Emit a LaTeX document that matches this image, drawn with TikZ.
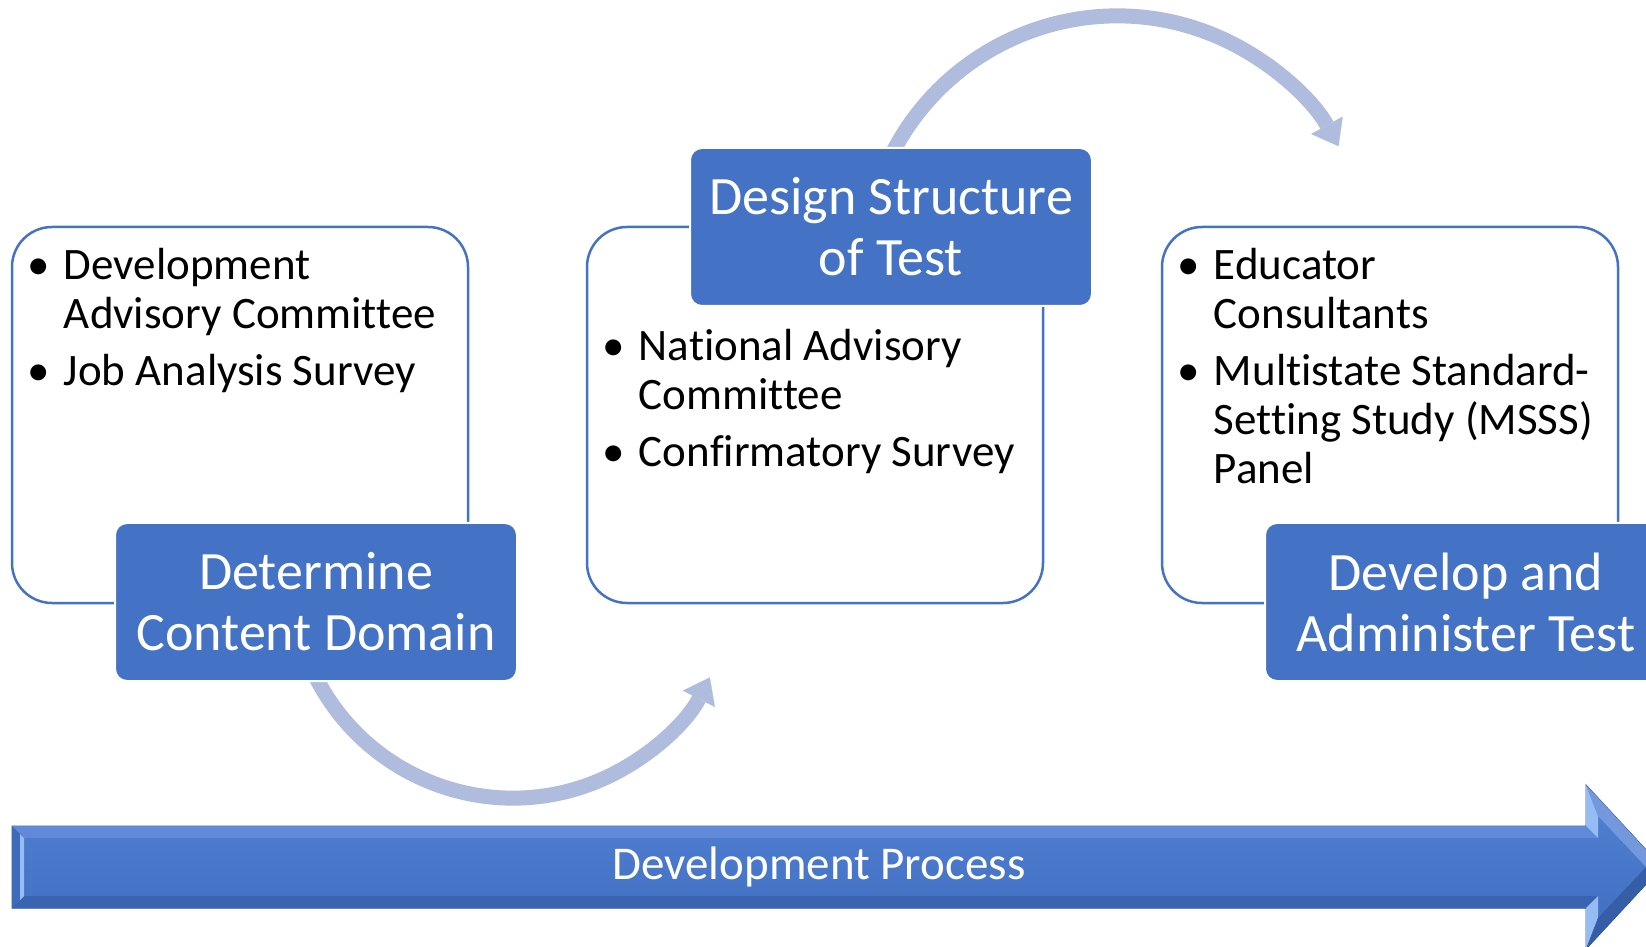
\documentclass[tikz,border=0pt]{standalone}
\usepackage{fontspec}
\setmainfont{Carlito}[Ligatures=NoCommon]
\usetikzlibrary{arrows.meta, positioning, calc, backgrounds}
\definecolor{stepblue}{RGB}{68,114,196}
\definecolor{arcblue}{RGB}{175,188,222}
\definecolor{barblue}{RGB}{68,118,208}
\definecolor{bardark}{RGB}{52,84,146}
\definecolor{barlight}{RGB}{150,188,244}
\newcommand{\bul}{\makebox[53pt][l]{\hspace{17pt}\textbullet}}

\begin{document}
\begin{tikzpicture}[x=1pt, y=1pt,
  boxstyle/.style={draw=stepblue, line width=2.5pt, rounded corners=40pt, fill=white, minimum width=456pt, minimum height=376pt, inner sep=0pt},
  lbl/.style={draw=white, line width=2pt, fill=stepblue, rounded corners=12pt, minimum width=402pt, minimum height=158pt, inner sep=0pt, text=white, align=center, font=\fontsize{54}{61}\selectfont},
  items/.style={anchor=base west, inner sep=0pt, font=\fontsize{45}{49}\selectfont},
  flow/.style={arcblue, line width=15pt, -{Triangle[length=24pt, width=36pt, line width=0.1pt]}},
]
  \useasboundingbox (0,0) rectangle (1646,946);
  \clip (0,0) rectangle (1646,946);

  % process bar
  \draw[bardark, line width=1pt, top color=barblue!92!white, bottom color=barblue!92!black]
    (12,120) -- (1586,120) -- (1586,161) -- (1662,79) -- (1586,-3) -- (1586,38) -- (12,38) -- cycle;
  \fill[barblue!85!white] (12,120) -- (1586,120) -- (1598,108) -- (24,108) -- cycle;
  \fill[barblue!85!black] (12,38) -- (1586,38) -- (1598,50) -- (24,50) -- cycle;
  \fill[barblue!90!black] (12,120) -- (24,108) -- (24,50) -- (12,38) -- cycle;
  \fill[barlight] (20,112) -- (24,108) -- (24,50) -- (20,46) -- cycle;
  \fill[barlight] (1586,161) -- (1598,130) -- (1598,108) -- (1586,120) -- cycle;
  \fill[barlight] (1586,38) -- (1598,50) -- (1598,28) -- (1586,-3) -- cycle;
  \fill[barblue!75!white] (1586,161) -- (1662,79) -- (1646,79) -- (1598,130) -- cycle;
  \fill[barblue!80!black] (1586,-3) -- (1662,79) -- (1646,79) -- (1598,28) -- cycle;
  \node[anchor=base, inner sep=0pt, text=white, font=\fontsize{47}{56}\selectfont] (proc) at (819,67) {Development Process};

  % boxes
  \node[boxstyle] (b1) at (240,531) {};
  \node[boxstyle] (b2) at (815,531) {};
  \node[boxstyle] (b3) at (1390,531) {};

  % step labels
  \node[lbl] (dom) at (316,344) {Determine\\Content Domain};
  \node[lbl] (str) at (891,719) {Design Structure\\of Test};
  \node[lbl] (adm) at (1466,344) {Develop and\\Administer Test};

  % bullet lists
  \node[items] (l1) at ([yshift=-54pt]b1.north west) {%
    \begin{tabular}[t]{@{}l@{}l@{}}
      \bul & Development\\
           & Advisory Committee\\[8pt]
      \bul & Job Analysis Survey
    \end{tabular}};
  \node[items] (l2) at ($(b2.west |- str.south)+(0,-54)$) {%
    \begin{tabular}[t]{@{}l@{}l@{}}
      \bul & National Advisory\\
           & Committee\\[8pt]
      \bul & Confirmatory Survey
    \end{tabular}};
  \node[items] (l3) at ([yshift=-54pt]b3.north west) {%
    \begin{tabular}[t]{@{}l@{}l@{}}
      \bul & Educator\\
           & Consultants\\[8pt]
      \bul & Multistate Standard-\\
           & Setting Study (MSSS)\\
           & Panel
    \end{tabular}};

  % curved arrows between steps
  \begin{pgfonlayer}{background}
    \draw[flow] ([shift={(-5,15)}]dom.south) arc[start angle=204, end angle=333, radius=221pt];
    \draw[flow] ([shift={(-3,-15)}]str.north) arc[start angle=155, end angle=29, radius=253pt];
  \end{pgfonlayer}
\end{tikzpicture}
\end{document}
